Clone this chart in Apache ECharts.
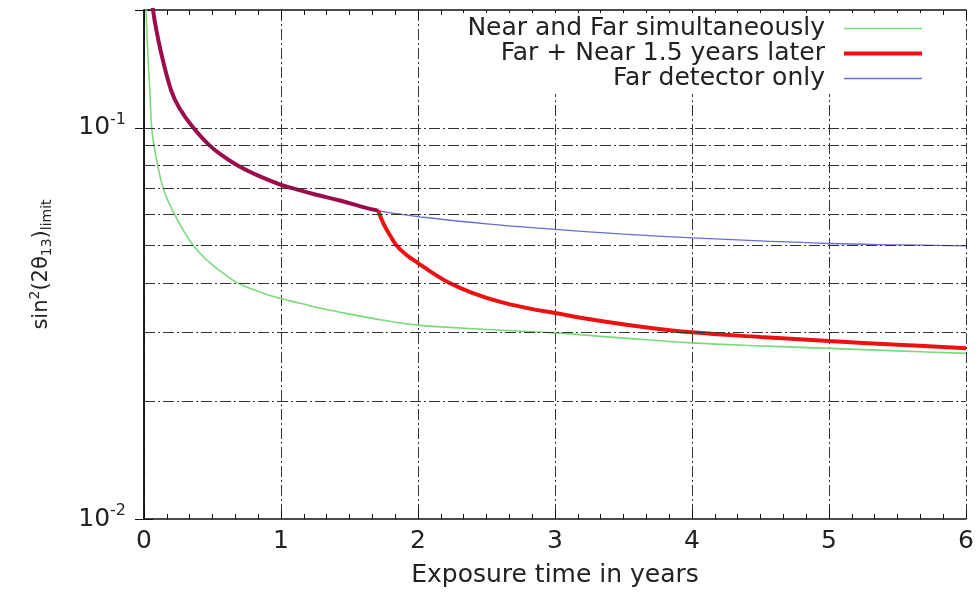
<!DOCTYPE html>
<html>
<head>
<meta charset="utf-8">
<script src="https://cdn.jsdelivr.net/npm/echarts@6/dist/echarts.min.js"></script>
<style>
html, body { margin: 0; padding: 0; background: #fff; }
#chart { width: 977px; height: 598px; }
</style>
</head>
<body>
<div id="chart"></div>
<script>
var seriesNames = ["Near and Far simultaneously", "Far + Near 1.5 years later", "Far detector only"];
var seriesColors = ["#7ada7a", "#ee1111", "#6a6ad8"];
var seriesWidths = [1.6, 4, 1.3];

// Near and Far simultaneously
var bothT = [0.005, 0.015, 0.03, 0.045, 0.056, 0.073, 0.1, 0.14, 0.18, 0.23, 0.29, 0.36, 0.45, 0.55, 0.68, 0.85, 1.0, 1.14, 1.3, 1.5, 1.75, 2.0, 2.5, 3.0, 3.5, 4.0, 4.5, 5.0, 5.5, 6.0];
var bothV = [0.3, 0.2, 0.15, 0.12, 0.1, 0.09, 0.08, 0.07, 0.0645, 0.0595, 0.0545, 0.05, 0.0462, 0.0432, 0.0402, 0.038, 0.0366, 0.0356, 0.0345, 0.0334, 0.0322, 0.0313, 0.0305, 0.0299, 0.029, 0.0282, 0.0277, 0.0273, 0.0269, 0.0265];

// Far detector only
var farT = [0.04, 0.066, 0.124, 0.2, 0.26, 0.36, 0.48, 0.58, 0.7, 0.85, 1.0, 1.12, 1.25, 1.43, 1.6, 1.71, 1.85, 2.0, 2.5, 3.0, 3.5, 4.0, 4.5, 5.0, 5.5, 6.0];
var farV = [0.26, 0.2, 0.156, 0.124, 0.112, 0.1, 0.09, 0.0845, 0.0795, 0.075, 0.0715, 0.0695, 0.0675, 0.0652, 0.0627, 0.0614, 0.0603, 0.0593, 0.0568, 0.055, 0.0535, 0.0523, 0.0514, 0.0506, 0.0502, 0.0499];

// Far + Near 1.5 years later (after the near detector starts)
var nearStart = 1.71;
var laterT = [1.71, 1.73, 1.76, 1.8, 1.85, 1.92, 2.0, 2.1, 2.23, 2.4, 2.6, 2.8, 3.0, 3.3, 3.6, 4.0, 4.5, 5.0, 5.5, 6.0];
var laterV = [0.0614, 0.0588, 0.0558, 0.0528, 0.0497, 0.0472, 0.0451, 0.0427, 0.0401, 0.0378, 0.0359, 0.0346, 0.0336, 0.0322, 0.0311, 0.03, 0.0292, 0.0285, 0.0279, 0.0273];

var yGridValues = [0.02, 0.03, 0.04, 0.05, 0.06, 0.07, 0.08, 0.09, 0.1];
var yTickValues = [0.01, 0.1];
var yTickExp = ["-2", "-1"];

var font = "DejaVu Sans";
var gridDash = [11, 3, 2, 3];

function pairs(ts, vs) {
    return ts.map(function (t, i) { return [t, vs[i]]; });
}

var bothData = pairs(bothT, bothV);
var farData = pairs(farT, farV);
var earlyData = farData.filter(function (p) { return p[0] <= nearStart; });
var laterData = pairs(laterT, laterV);

function yLabel(v) {
    for (var i = 0; i < yTickValues.length; i++) {
        if (Math.abs(Math.log10(v) - Math.log10(yTickValues[i])) < 1e-6) {
            return "{b|10}{s|" + yTickExp[i] + "}";
        }
    }
    return "";
}

function curve(name, data, color, width, z) {
    return {
        name: name,
        type: "line",
        data: data,
        smooth: 0.4,
        showSymbol: false,
        z: z,
        color: color,
        lineStyle: { color: color, width: width }
    };
}

var myChart = echarts.init(document.getElementById("chart"));
myChart.setOption({
    animation: false,
    backgroundColor: "#fff",
    grid: { left: 144, right: 11, top: 10, bottom: 79 },
    legend: {
        orient: "vertical",
        right: 47,
        top: 13,
        align: "right",
        itemWidth: 78,
        itemHeight: 24,
        itemGap: 0,
        backgroundColor: "#fff",
        padding: [3, 6, 3, 12],
        itemStyle: { opacity: 0 },
        textStyle: { fontFamily: font, fontSize: 25, color: "#222", lineHeight: 24, padding: [0, 14, 0, 0] },
        data: seriesNames.map(function (n, i) {
            return { name: n, lineStyle: { color: seriesColors[i], width: seriesWidths[i] } };
        })
    },
    xAxis: [
        {
            type: "value",
            min: 0,
            max: 6,
            interval: 1,
            name: "Exposure time in years",
            nameLocation: "middle",
            nameGap: 44,
            nameTextStyle: { fontFamily: font, fontSize: 25, color: "#222" },
            axisLine: { lineStyle: { color: "#111", width: 1.5 } },
            axisTick: { inside: true, length: 9, lineStyle: { color: "#111" } },
            minorTick: { show: true, splitNumber: 6, length: 5, lineStyle: { color: "#111" } },
            axisLabel: { fontFamily: font, fontSize: 25, color: "#222", margin: 10 },
            splitLine: { show: true, lineStyle: { color: "#333", width: 1, type: gridDash } }
        },
        {
            type: "value",
            position: "top",
            min: 0,
            max: 6,
            interval: 1,
            axisLine: { lineStyle: { color: "#111", width: 1.5 } },
            axisTick: { inside: true, length: 9, lineStyle: { color: "#111" } },
            minorTick: { show: true, splitNumber: 6, length: 5, lineStyle: { color: "#111" } },
            axisLabel: { show: false },
            splitLine: { show: false }
        }
    ],
    yAxis: [
        {
            type: "log",
            logBase: 10,
            min: 0.01,
            max: 0.2,
            name: "{n|sin}{sup|2}{n|(2θ}{sub|13}{n|)}{sub|limit}",
            nameLocation: "middle",
            nameRotate: 90,
            nameGap: 88,
            nameTextStyle: {
                color: "#222",
                rich: {
                    n: { fontFamily: font, fontSize: 21, color: "#222" },
                    sup: { fontFamily: font, fontSize: 14, color: "#222", padding: [0, 0, 14, 0] },
                    sub: { fontFamily: font, fontSize: 14, color: "#222", padding: [10, 0, 0, 0] }
                }
            },
            axisLine: { lineStyle: { color: "#111", width: 1.5 } },
            axisTick: { inside: true, length: 9, lineStyle: { color: "#111" } },
            axisLabel: {
                margin: 18,
                formatter: yLabel,
                rich: {
                    b: { fontFamily: font, fontSize: 25, color: "#222" },
                    s: { fontFamily: font, fontSize: 16, color: "#222", padding: [0, 0, 16, 0] }
                }
            },
            splitLine: { show: false }
        },
        {
            type: "log",
            logBase: 10,
            min: 0.01,
            max: 0.2,
            position: "right",
            axisLine: { lineStyle: { color: "#111", width: 1.5 } },
            axisTick: { inside: true, length: 9, lineStyle: { color: "#111" } },
            axisLabel: { show: false },
            splitLine: { show: false }
        }
    ],
    series: [
        {
            name: "grid",
            type: "line",
            data: [],
            z: 1,
            markLine: {
                silent: true,
                symbol: ["none", "none"],
                label: { show: false },
                lineStyle: { color: "#333", width: 1, type: gridDash },
                data: yGridValues.map(function (v) { return { yAxis: v }; })
            }
        },
        curve(seriesNames[0], bothData, seriesColors[0], seriesWidths[0], 3),
        curve(seriesNames[2], farData, seriesColors[2], seriesWidths[2], 3),
        curve("early", earlyData, "#9c0c4c", 4, 4),
        curve(seriesNames[1], laterData, seriesColors[1], seriesWidths[1], 4)
    ]
});
</script>
</body>
</html>
